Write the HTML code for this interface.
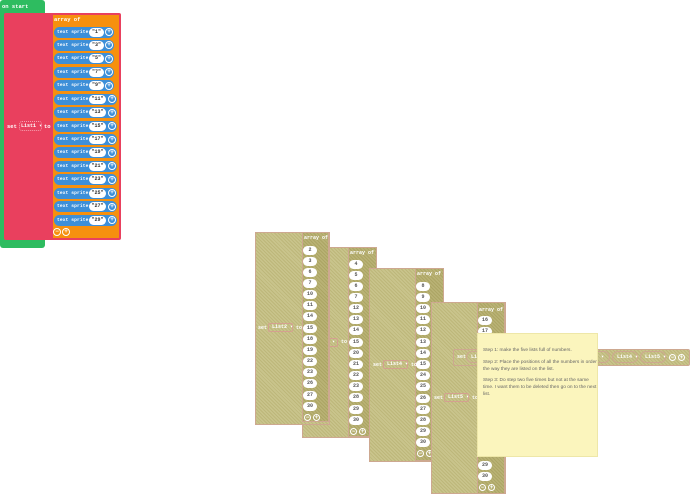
<!DOCTYPE html>
<html><head><meta charset="utf-8"><style>
*{margin:0;padding:0;box-sizing:border-box}
body{width:690px;height:496px;background:#fff;position:relative;overflow:hidden;font-family:"Liberation Mono",monospace;font-weight:bold}
div,span{position:absolute}
.t{font-size:5.5px;color:#fff;white-space:nowrap;line-height:7px}
.sp{left:54px;height:11px;border-radius:6px;background:#3d8fd8}
.sp .t{left:3px;top:2px;font-size:4.6px;letter-spacing:0.1px}
.sp .f{left:35px;top:1px;width:15px;height:9px;border-radius:5px;background:#fff;color:#333;font-size:5px;text-align:center;line-height:9px}
.pl{width:8px;height:8px;border-radius:50%;border:1px solid #fff;color:#fff;font-size:6px;line-height:6px;text-align:center}
.ol{background:repeating-linear-gradient(45deg,#bdb77a 0 1px,#c9c48c 1px 2.5px);border:1px solid #cda890}
.col{background:repeating-linear-gradient(45deg,#aca564 0 1px,#b9b275 1px 2.5px);border:1px solid #cda890}
.n{width:14px;height:9px;border-radius:5px;background:#fff;color:#555;font-size:5px;text-align:center;line-height:9px}
.ot{font-size:5px;color:#fff;white-space:nowrap;line-height:7px}
.dd{height:9px;border:1px solid #d4a090;border-radius:2px;font-size:5px;color:#fff;line-height:7px;padding-left:3px;white-space:nowrap}
.pm{width:7px;height:7px;border-radius:50%;border:1px solid #fff;color:#fff;font-size:6px;line-height:5px;text-align:center}
.hp{height:12px;border:1px solid #cda890;border-radius:6px;font-size:5px;color:#fff;line-height:10px;padding-left:4px;white-space:nowrap}
.note p{font-family:"Liberation Sans",sans-serif;font-weight:normal;font-size:4.8px;color:#666;line-height:7px;position:absolute;left:5px;width:116px}
</style></head><body>

<!-- on start -->
<div style="left:0;top:0;width:45px;height:248px;background:#2ebc60;border-radius:3px"></div>
<span class="t" style="left:2px;top:3px">on start</span>
<div style="left:4px;top:13px;width:117px;height:227px;background:#e9405e;border-radius:2px"></div>
<span class="t" style="left:7px;top:123px">set</span>
<div style="left:19px;top:121px;width:23px;height:10px;border:1px dotted #f5a0b0;border-radius:3px"></div>
<span class="t" style="left:21px;top:123px;font-size:5px">List1 ▾</span>
<span class="t" style="left:44px;top:123px">to</span>
<div style="left:52px;top:14px;width:68px;height:225px;background:#f6900e;border:1px solid #e9405e"></div>
<span class="t" style="left:54px;top:16px">array of</span>

<div class="sp" style="top:26.5px;width:60px"><span class="t">text sprite</span><span class="f">"1"</span><span class="pl" style="left:51px;top:1.5px">+</span></div>
<div class="sp" style="top:39.9px;width:60px"><span class="t">text sprite</span><span class="f">"3"</span><span class="pl" style="left:51px;top:1.5px">+</span></div>
<div class="sp" style="top:53.4px;width:60px"><span class="t">text sprite</span><span class="f">"5"</span><span class="pl" style="left:51px;top:1.5px">+</span></div>
<div class="sp" style="top:66.8px;width:60px"><span class="t">text sprite</span><span class="f">"7"</span><span class="pl" style="left:51px;top:1.5px">+</span></div>
<div class="sp" style="top:80.2px;width:60px"><span class="t">text sprite</span><span class="f">"9"</span><span class="pl" style="left:51px;top:1.5px">+</span></div>
<div class="sp" style="top:93.7px;width:63px"><span class="t">text sprite</span><span class="f" style="width:17px">"11"</span><span class="pl" style="left:54px;top:1.5px">+</span></div>
<div class="sp" style="top:107.1px;width:63px"><span class="t">text sprite</span><span class="f" style="width:17px">"13"</span><span class="pl" style="left:54px;top:1.5px">+</span></div>
<div class="sp" style="top:120.5px;width:63px"><span class="t">text sprite</span><span class="f" style="width:17px">"15"</span><span class="pl" style="left:54px;top:1.5px">+</span></div>
<div class="sp" style="top:134px;width:63px"><span class="t">text sprite</span><span class="f" style="width:17px">"17"</span><span class="pl" style="left:54px;top:1.5px">+</span></div>
<div class="sp" style="top:147.4px;width:63px"><span class="t">text sprite</span><span class="f" style="width:17px">"19"</span><span class="pl" style="left:54px;top:1.5px">+</span></div>
<div class="sp" style="top:160.8px;width:63px"><span class="t">text sprite</span><span class="f" style="width:17px">"21"</span><span class="pl" style="left:54px;top:1.5px">+</span></div>
<div class="sp" style="top:174.2px;width:63px"><span class="t">text sprite</span><span class="f" style="width:17px">"23"</span><span class="pl" style="left:54px;top:1.5px">+</span></div>
<div class="sp" style="top:187.7px;width:63px"><span class="t">text sprite</span><span class="f" style="width:17px">"25"</span><span class="pl" style="left:54px;top:1.5px">+</span></div>
<div class="sp" style="top:201.1px;width:63px"><span class="t">text sprite</span><span class="f" style="width:17px">"27"</span><span class="pl" style="left:54px;top:1.5px">+</span></div>
<div class="sp" style="top:214.5px;width:63px"><span class="t">text sprite</span><span class="f" style="width:17px">"29"</span><span class="pl" style="left:54px;top:1.5px">+</span></div>
<span class="pl" style="left:53px;top:228px">−</span>
<span class="pl" style="left:62px;top:228px">+</span>

<!-- block 2 (List3) -->
<div class="ol" style="left:302px;top:247px;width:75px;height:191px"></div>
<div class="col" style="left:348px;top:247px;width:29px;height:190px"></div>
<span class="ot" style="left:350px;top:250px">array of</span>
<span class="dd" style="left:322px;top:338px;width:16px">3 ▾</span>
<span class="ot" style="left:341px;top:339px">to</span>
<span class="n" style="left:349px;top:259.5px">4</span>
<span class="n" style="left:349px;top:270.7px">5</span>
<span class="n" style="left:349px;top:281.8px">6</span>
<span class="n" style="left:349px;top:293px">7</span>
<span class="n" style="left:349px;top:304.1px">12</span>
<span class="n" style="left:349px;top:315.3px">13</span>
<span class="n" style="left:349px;top:326.4px">14</span>
<span class="n" style="left:349px;top:337.6px">15</span>
<span class="n" style="left:349px;top:348.7px">20</span>
<span class="n" style="left:349px;top:359.9px">21</span>
<span class="n" style="left:349px;top:371px">22</span>
<span class="n" style="left:349px;top:382.2px">23</span>
<span class="n" style="left:349px;top:393.3px">28</span>
<span class="n" style="left:349px;top:404.5px">29</span>
<span class="n" style="left:349px;top:415.6px">30</span>
<span class="pm" style="left:350px;top:428px">−</span><span class="pm" style="left:359px;top:428px">+</span>

<!-- block 1 (List2) -->
<div class="ol" style="left:255px;top:232px;width:75px;height:193px"></div>
<div class="col" style="left:302px;top:232px;width:27px;height:190px"></div>
<span class="ot" style="left:304px;top:235px">array of</span>
<span class="ot" style="left:258px;top:325px">set</span>
<span class="dd" style="left:268px;top:323px;width:25px">List2 ▾</span>
<span class="ot" style="left:296px;top:325px">to</span>
<span class="n" style="left:303px;top:245.5px">2</span>
<span class="n" style="left:303px;top:256.7px">3</span>
<span class="n" style="left:303px;top:267.8px">6</span>
<span class="n" style="left:303px;top:279px">7</span>
<span class="n" style="left:303px;top:290.1px">10</span>
<span class="n" style="left:303px;top:301.3px">11</span>
<span class="n" style="left:303px;top:312.4px">14</span>
<span class="n" style="left:303px;top:323.6px">15</span>
<span class="n" style="left:303px;top:334.7px">18</span>
<span class="n" style="left:303px;top:345.9px">19</span>
<span class="n" style="left:303px;top:357px">22</span>
<span class="n" style="left:303px;top:368.2px">23</span>
<span class="n" style="left:303px;top:379.3px">26</span>
<span class="n" style="left:303px;top:390.5px">27</span>
<span class="n" style="left:303px;top:401.6px">30</span>
<span class="pm" style="left:304px;top:414px">−</span><span class="pm" style="left:313px;top:414px">+</span>

<!-- block 3 (List4) -->
<div class="ol" style="left:369px;top:268px;width:75px;height:194px"></div>
<div class="col" style="left:415px;top:268px;width:29px;height:193px"></div>
<span class="ot" style="left:417px;top:271px">array of</span>
<span class="ot" style="left:373px;top:362px">set</span>
<span class="dd" style="left:383px;top:360px;width:25px">List4 ▾</span>
<span class="ot" style="left:411px;top:362px">to</span>
<span class="n" style="left:416px;top:281.5px">8</span>
<span class="n" style="left:416px;top:292.7px">9</span>
<span class="n" style="left:416px;top:303.9px">10</span>
<span class="n" style="left:416px;top:315.1px">11</span>
<span class="n" style="left:416px;top:326.3px">12</span>
<span class="n" style="left:416px;top:337.5px">13</span>
<span class="n" style="left:416px;top:348.7px">14</span>
<span class="n" style="left:416px;top:359.9px">15</span>
<span class="n" style="left:416px;top:371.1px">24</span>
<span class="n" style="left:416px;top:382.3px">25</span>
<span class="n" style="left:416px;top:393.5px">26</span>
<span class="n" style="left:416px;top:404.7px">27</span>
<span class="n" style="left:416px;top:415.9px">28</span>
<span class="n" style="left:416px;top:427.1px">29</span>
<span class="n" style="left:416px;top:438.3px">30</span>
<span class="pm" style="left:417px;top:450px">−</span><span class="pm" style="left:426px;top:450px">+</span>

<!-- block 4 (List5) -->
<div class="ol" style="left:431px;top:302px;width:75px;height:192px"></div>
<div class="col" style="left:477px;top:302px;width:28px;height:192px"></div>
<span class="ot" style="left:479px;top:307px">array of</span>
<span class="ot" style="left:434px;top:395px">set</span>
<span class="dd" style="left:444px;top:393px;width:25px">List5 ▾</span>
<span class="ot" style="left:472px;top:395px">to</span>
<span class="n" style="left:478px;top:315.5px">16</span>
<span class="n" style="left:478px;top:326.7px">17</span>
<span class="n" style="left:478px;top:460.5px">29</span>
<span class="n" style="left:478px;top:471.7px">30</span>
<span class="pm" style="left:479px;top:484px">−</span><span class="pm" style="left:488px;top:484px">+</span>

<!-- horizontal block -->
<div class="ol" style="left:453px;top:349px;width:237px;height:17px;border-radius:2px"></div>
<span class="ot" style="left:457px;top:354px">set</span>
<span class="hp" style="left:466px;top:351px;width:20px">List1</span>
<span class="hp" style="left:590px;top:351px;width:20px">3 ▾</span>
<span class="hp" style="left:612px;top:351px;width:26px">List4 ▾</span>
<span class="hp" style="left:640px;top:351px;width:26px">List5 ▾</span>
<span class="pm" style="left:669px;top:354px">−</span><span class="pm" style="left:678px;top:354px">+</span>

<!-- note -->
<div class="note" style="left:477px;top:333px;width:121px;height:124px;background:#fbf5bd;border:1px solid #eee7a8">
<p style="top:13px">Step 1: make the five lists full of numbers.</p>
<p style="top:25px">Step 2: Place the positions of all the numbers in order the way they are listed on the list.</p>
<p style="top:43px">Step 3: Do step two five times but not at the same time. I want them to be deleted then go on to the next list.</p>
</div>
</body></html>
